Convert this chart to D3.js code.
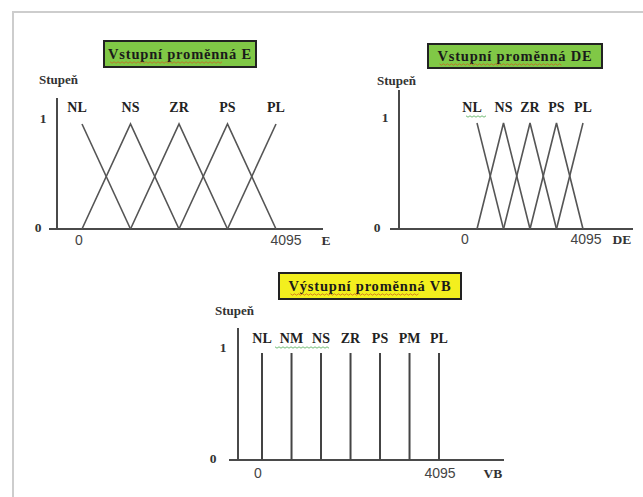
<!DOCTYPE html>
<html>
<head>
<meta charset="utf-8">
<script src="https://cdn.jsdelivr.net/npm/d3@7"></script>
<style>
  html, body { margin: 0; padding: 0; background: #fff; }
  #visualization { width: 643px; height: 497px; }
</style>
</head>
<body>
<div id="visualization"></div>
<script>
// membership function data
const inputLabels = ['NL', 'NS', 'ZR', 'PS', 'PL'];
const inputCenters = [0, 1024, 2048, 3071, 4095];
const outputLabels = ['NL', 'NM', 'NS', 'ZR', 'PS', 'PM', 'PL'];
const outputCenters = [0, 683, 1365, 2048, 2730, 3413, 4095];
const xTicks = [0, 4095];
const yTicks = [0, 1];
const titles = ['Vstupní proměnná E', 'Vstupní proměnná DE', 'Výstupní proměnná VB'];
const axisNames = ['E', 'DE', 'VB'];

document.addEventListener('DOMContentLoaded', () => {
    d3.select('#visualization').html('');

    const width = 643;
    const height = 497;
    const serif = 'Liberation Serif, Times New Roman, serif';
    const sans = 'Liberation Sans, Arial, sans-serif';
    const lineColor = '#4a4a4a';

    const svg = d3.select('#visualization')
        .append('svg')
        .attr('width', width)
        .attr('height', height);

    // light frame (top + left)
    svg.append('line').attr('x1', 12).attr('x2', width).attr('y1', 12).attr('y2', 12)
        .attr('stroke', '#cdcdcd').attr('stroke-width', 2);
    svg.append('line').attr('x1', 13).attr('x2', 13).attr('y1', 12).attr('y2', height)
        .attr('stroke', '#cdcdcd').attr('stroke-width', 2);

    // little spell-check squiggle, like in the original document
    const squiggle = (x0, x1, y, color) => {
        const pts = [];
        for (let x = x0, k = 0; x <= x1; x += 2, k++) pts.push([x, y + (k % 2 ? 1.2 : -0.2)]);
        svg.append('path').attr('d', d3.line()(pts))
            .attr('fill', 'none').attr('stroke', color).attr('stroke-width', 0.9).attr('opacity', 0.8);
    };

    const panels = [
        { title: titles[0], name: axisNames[0], fill: '#80c846', box: [104, 41, 152, 26],
          x: [82, 276], y: [229, 124], axisX: [49, 323], axisTop: 98, yAxisX: 57,
          labelY: 112, stupen: [39, 84], oneX: 43, zeroX: 38, tickY: 245, tickNudge: [-3, 10], nameX: 326,
          labels: inputLabels, centers: inputCenters, kind: 'tri' },
        { title: titles[1], name: axisNames[1], fill: '#80c846', box: [428, 44, 174, 24],
          x: [477, 583], y: [229, 123], axisX: [390, 633], axisTop: 90, yAxisX: 399,
          labelY: 112, stupen: [377, 85], oneX: 385, zeroX: 377, tickY: 244, tickNudge: [-12, 3], nameX: 622,
          labels: inputLabels, centers: inputCenters, kind: 'tri' },
        { title: titles[2], name: axisNames[2], fill: '#f3ef1e', box: [279, 273, 182, 26],
          x: [262, 439], y: [460, 353], axisX: [229, 504], axisTop: 328, yAxisX: 238,
          labelY: 343, stupen: [215, 315], oneX: 223, zeroX: 213, tickY: 478, tickNudge: [-4, 1], nameX: 493,
          labels: outputLabels, centers: outputCenters, kind: 'single' }
    ];

    panels.forEach(p => {
        const g = svg.append('g');
        const xScale = d3.scaleLinear().domain([0, 4095]).range(p.x);
        const yScale = d3.scaleLinear().domain([0, 1]).range(p.y);
        const y0 = yScale(0);

        // title box
        g.append('rect')
            .attr('x', p.box[0]).attr('y', p.box[1])
            .attr('width', p.box[2]).attr('height', p.box[3])
            .attr('fill', p.fill).attr('stroke', '#222').attr('stroke-width', 2);
        const title = g.append('text')
            .attr('x', p.box[0] + p.box[2] / 2)
            .attr('y', p.box[1] + p.box[3] / 2 + 5)
            .attr('text-anchor', 'middle')
            .style('font-family', serif).attr('font-weight', 'bold').attr('font-size', 14.5)
            .attr('letter-spacing', 0.8)
            .attr('fill', '#1a1a1a')
            .text(p.title);
        const tb = title.node().getBBox();
        squiggle(tb.x + 2, tb.x + tb.width * 0.8, p.box[1] + p.box[3] / 2 + 8, '#d05a20');

        // "Stupeň"
        g.append('text')
            .attr('x', p.stupen[0]).attr('y', p.stupen[1])
            .style('font-family', serif).attr('font-weight', 'bold').attr('font-size', 13)
            .attr('fill', '#333')
            .text('Stupeň');

        // axes
        g.append('line')
            .attr('x1', p.axisX[0]).attr('x2', p.axisX[1]).attr('y1', y0).attr('y2', y0)
            .attr('stroke', lineColor).attr('stroke-width', 2);
        g.append('line')
            .attr('x1', p.yAxisX).attr('x2', p.yAxisX).attr('y1', p.axisTop).attr('y2', y0)
            .attr('stroke', lineColor).attr('stroke-width', 2);

        // y tick labels
        g.selectAll('.ytick')
            .data(yTicks)
            .enter()
            .append('text')
            .attr('x', d => d === 1 ? p.oneX : p.zeroX)
            .attr('y', d => yScale(d) + (d === 1 ? -1 : 3))
            .attr('text-anchor', 'middle')
            .style('font-family', serif).attr('font-weight', 'bold').attr('font-size', 13.5)
            .attr('fill', '#333')
            .text(d => d);

        // x tick labels
        g.selectAll('.xtick')
            .data(xTicks)
            .enter()
            .append('text')
            .attr('x', (d, i) => xScale(d) + p.tickNudge[i])
            .attr('y', p.tickY)
            .attr('text-anchor', 'middle')
            .style('font-family', sans).attr('font-size', 14)
            .attr('fill', '#444')
            .text(d => d);

        g.append('text')
            .attr('x', p.nameX).attr('y', p.tickY)
            .attr('text-anchor', 'middle')
            .style('font-family', serif).attr('font-weight', 'bold').attr('font-size', 13.5)
            .attr('fill', '#333')
            .text(p.name);

        // membership functions
        if (p.kind === 'tri') {
            const line = d3.line().x(d => xScale(d[0])).y(d => yScale(d[1]));
            const shapes = p.centers.map((c, i) => {
                const pts = [];
                if (i > 0) pts.push([p.centers[i - 1], 0]);
                pts.push([c, 1]);
                if (i < p.centers.length - 1) pts.push([p.centers[i + 1], 0]);
                return pts;
            });
            g.selectAll('.mf')
                .data(shapes)
                .enter()
                .append('path')
                .attr('d', line)
                .attr('fill', 'none')
                .attr('stroke', '#555')
                .attr('stroke-width', 1.6);
        } else {
            g.selectAll('.mf')
                .data(p.centers)
                .enter()
                .append('line')
                .attr('x1', d => xScale(d)).attr('x2', d => xScale(d))
                .attr('y1', yScale(1)).attr('y2', y0)
                .attr('stroke', '#444')
                .attr('stroke-width', 2);
        }

        // term labels
        g.selectAll('.term')
            .data(p.labels)
            .enter()
            .append('text')
            .attr('x', (d, i) => xScale(p.centers[i]) - (i === 0 && p.kind === 'tri' ? 5 : 0))
            .attr('y', p.labelY)
            .attr('text-anchor', 'middle')
            .style('font-family', serif).attr('font-weight', 'bold').attr('font-size', 14)
            .attr('fill', '#222')
            .text(d => d);
    });

    // green grammar squiggles under some term labels
    squiggle(466, 486, 116, '#3aa040');
    squiggle(275, 330, 347, '#3aa040');
});
</script>
</body>
</html>
